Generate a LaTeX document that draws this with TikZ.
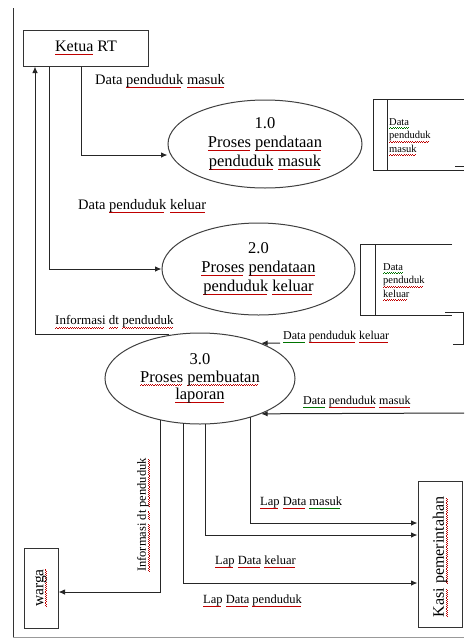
\documentclass[tikz,border=0pt]{standalone}
\usepackage{fontspec}
\setmainfont{Liberation Serif}
\usetikzlibrary{arrows.meta,shapes.geometric,calc}
\newcommand\wv[2]{\setbox0\hbox{#2}\leavevmode\rlap{\lower3.2pt\hbox to\wd0{\color{#1}\leaders\hbox{\rule{1.1pt}{0.5pt}\raise0.6pt\hbox{\rule{1.1pt}{0.5pt}}}\hfill}}\box0\relax}
\newcommand\rwv{\wv{red!75!black}}
\newcommand\gwv{\wv{green!45!black}}
\begin{document}
\begin{tikzpicture}[x=1pt,y=-1pt,
  line/.style={draw=black!85,line width=1pt},
  arr/.style={line,-{Latex[length=6.5pt,width=5.5pt]}},
  box/.style={draw=black!80,line width=1pt,inner sep=0pt},
  proc/.style={ellipse,draw=black!75,line width=1pt,inner sep=0pt,align=center,font=\fontsize{16.5}{19}\selectfont},
  lbl/.style={inner sep=0pt,anchor=west},
  storetext/.style={inner sep=0pt,anchor=west,align=left,font=\fontsize{10.5}{13.5}\selectfont}]
\useasboundingbox (0,0) rectangle (464,638);
\fill[white] (0,0) rectangle (464,638);
% frame
\draw[black!80,line width=1pt] (13,8) -- (13,637);
\draw[black!40,line width=1pt] (13,637) -- (464,637);
% external entities
\node[box,minimum width=125,minimum height=36,font=\fontsize{16}{19}\selectfont] (ketua) at (86,48) {\rwv{Ketua} RT};
\node[box,minimum width=34,minimum height=80] (warga) at (41,588) {};
\node[rotate=90,inner sep=0pt,font=\fontsize{15.5}{18}\selectfont] (wargat) at (41,588) {\rwv{warga}};
\node[box,minimum width=44,minimum height=146] (kasi) at (440,554) {};
\node[rotate=90,inner sep=0pt,font=\fontsize{16}{18}\selectfont] (kasit) at (440,557) {\rwv{Kasi} \rwv{pemerintahan}};
% processes
\node[proc,minimum width=194,minimum height=88] (e1) at (265,144) {1.0\\\rwv{Proses} \rwv{pendataan}\\\rwv{penduduk} \rwv{masuk}};
\node[proc,minimum width=193,minimum height=92] (e2) at (258.5,269) {2.0\\\rwv{Proses} \rwv{pendataan}\\\rwv{penduduk} \rwv{keluar}};
\node[proc,minimum width=190,minimum height=91,font=\fontsize{16.5}{17.5}\selectfont] (e3) at (200,378.5) {3.0\\\rwv{Proses} \rwv{pembuatan}\\\rwv{laporan}};
% data stores
\draw[line] (464,99) -- (373,99) -- (373,170) -- (464,170);
\draw[line] (387,99) -- (387,170);
\draw[line] (455,166) -- (464,166);
\node[storetext] (ds1) at (389,137) {\gwv{Data}\\\rwv{penduduk}\\\rwv{masuk}};
\draw[line] (452,244) -- (360,244) -- (360,315) -- (452,315);
\draw[line] (375,244) -- (375,315);
\draw[line] (445,312) -- (463,312) -- (463,344) -- (453,344);
\node[storetext] (ds2) at (383,282) {\gwv{Data}\\\rwv{penduduk}\\\rwv{keluar}};
% flows
\draw[arr] ($(ketua.south west)+(58,0)$) |- ([yshift=-11pt]e1.west);
\draw[arr] ($(ketua.south west)+(26,0)$) |- (e2.west);
\draw[arr] (e3.125) -| ($(ketua.south west)+(12,0)$);
\coordinate (kin) at (280,343);
\draw[arr] (kin) -- (e3.30);
\coordinate (min) at (464,413);
\draw[arr] (min) -- (e3.-30);
\draw[arr] ($(e3.center)+(-40,41)$) |- ([yshift=-4pt]warga.east);
\draw[arr] ($(e3.center)+(-17,44.8)$) |- ([yshift=-29pt]kasi.west);
\draw[arr] ($(e3.center)+(5,45.3)$) |- ([yshift=19pt]kasi.west);
\draw[arr] ($(e3.center)+(50,38.5)$) |- ([yshift=31pt]kasi.west);
% labels
\node[lbl,font=\fontsize{14.5}{17}\selectfont] (l1) at (95,81) {Data \rwv{penduduk} \rwv{masuk}};
\node[lbl,font=\fontsize{14.5}{17}\selectfont] (l2) at (78,206) {Data \rwv{penduduk} \rwv{keluar}};
\node[lbl,font=\fontsize{13}{15}\selectfont] (l3) at (55,322) {\rwv{Informasi} \rwv{dt} \rwv{penduduk}};
\node[lbl,font=\fontsize{12}{14}\selectfont] (l4) at (283,337) {\gwv{Data} \rwv{penduduk} \rwv{keluar}};
\node[lbl,font=\fontsize{12}{14}\selectfont] (l5) at (303,402) {\gwv{Data} \rwv{penduduk} \rwv{masuk}};
\node[lbl,font=\fontsize{12.5}{14}\selectfont] (l6) at (260,503) {\rwv{Lap} \rwv{Data} \gwv{masuk}};
\node[lbl,font=\fontsize{12.5}{14}\selectfont] (l7) at (215,562) {\rwv{Lap} \rwv{Data} \rwv{keluar}};
\node[lbl,font=\fontsize{12.5}{14}\selectfont] (l8) at (203,601) {\rwv{Lap} \rwv{Data} \rwv{penduduk}};
\node[rotate=90,inner sep=0pt,font=\fontsize{12.5}{14}\selectfont] (l9) at (143,515) {\rwv{Informasi} \rwv{dt} \rwv{penduduk}};
\end{tikzpicture}
\end{document}
